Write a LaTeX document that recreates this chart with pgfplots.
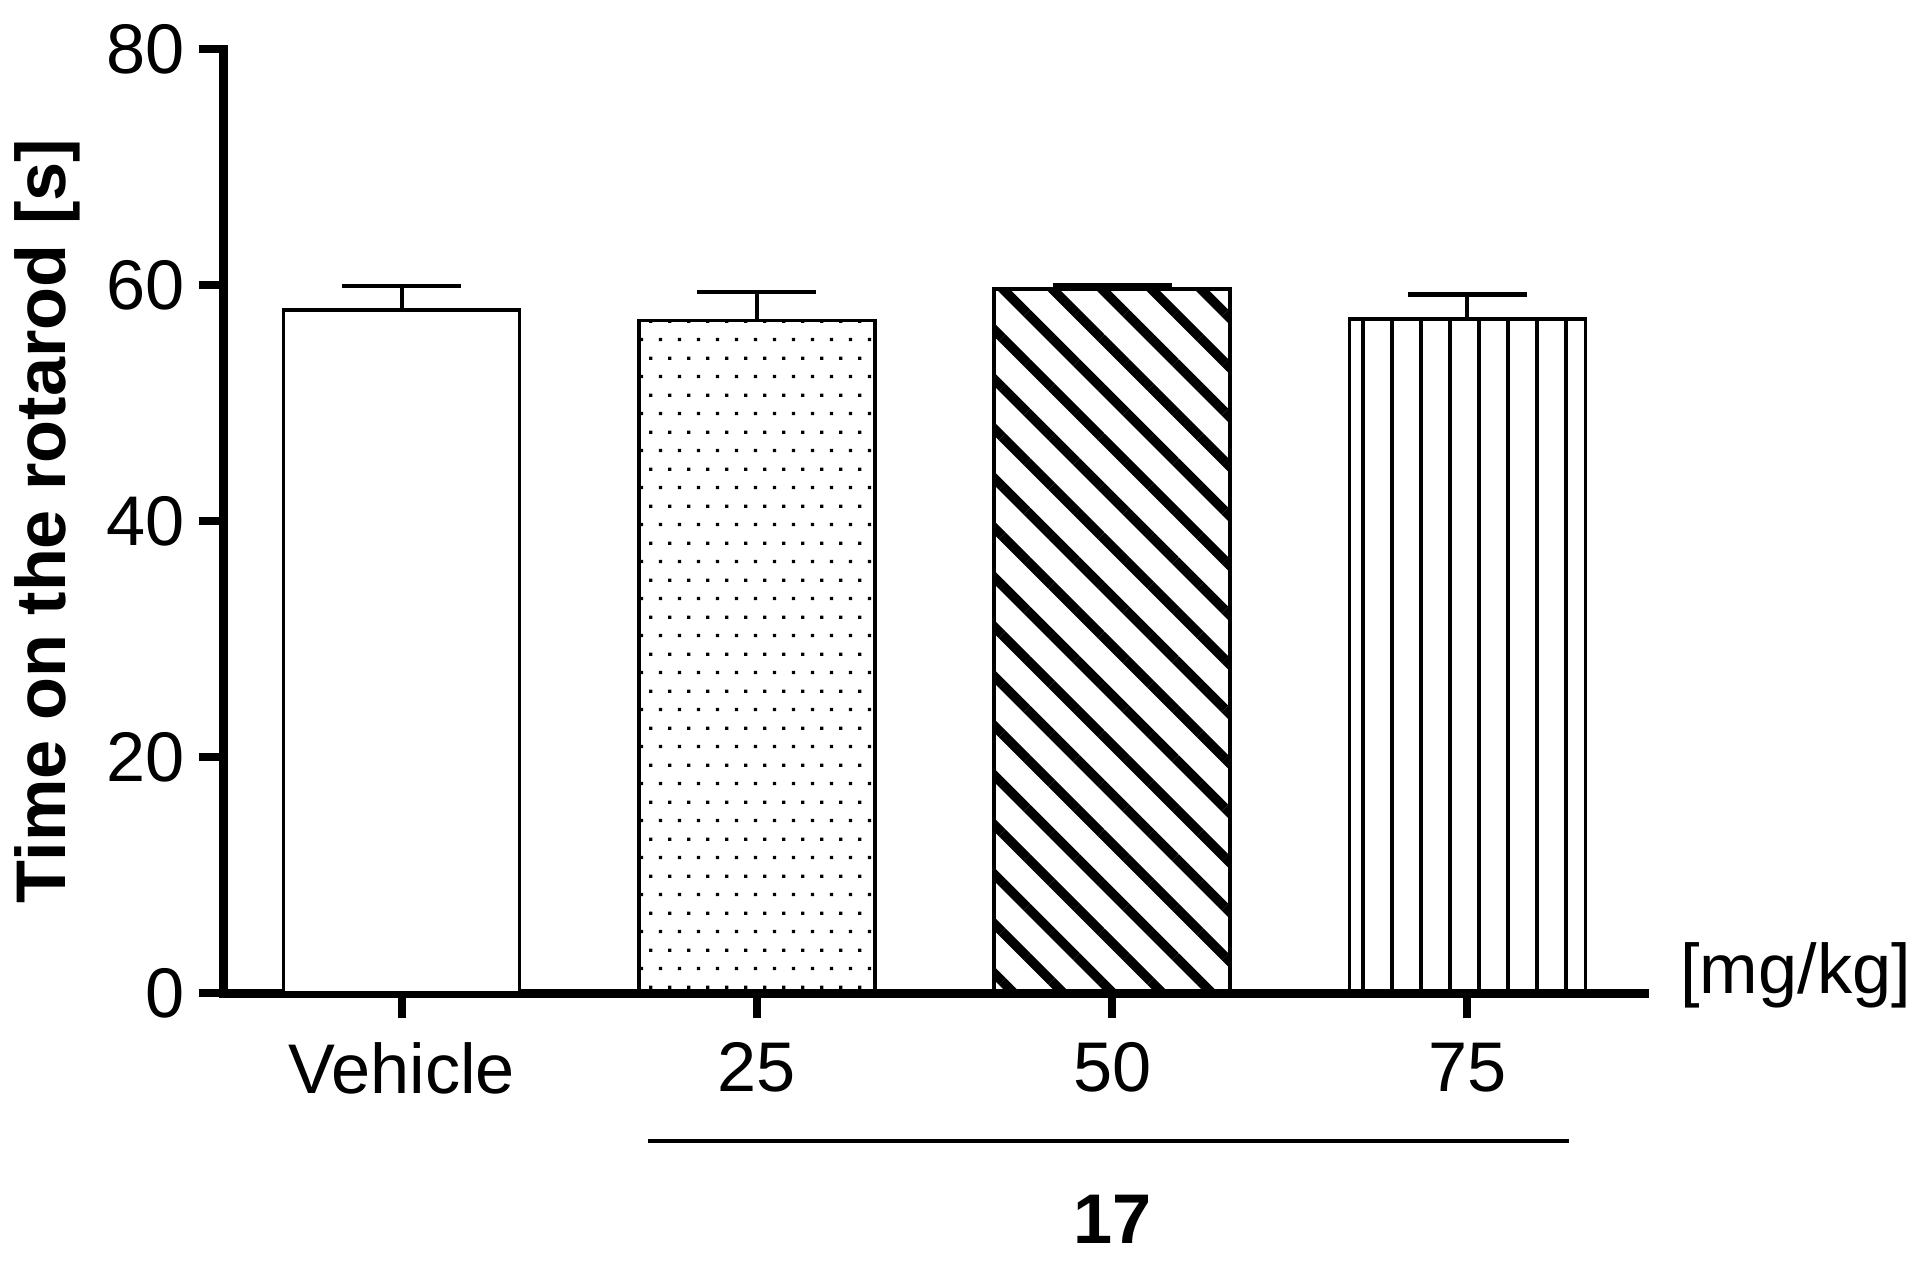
\documentclass[border=0pt]{standalone}
\usepackage{fontspec}
\setmainfont{Liberation Sans}
\usepackage{pgfplots}
\pgfplotsset{compat=1.18}
\usetikzlibrary{patterns,patterns.meta}

% staggered dot grid for the 25 mg/kg bar
\pgfdeclarepatternformonly{staggerdots}{\pgfpoint{0cm}{0cm}}{\pgfpoint{0.1875cm}{0.366cm}}{\pgfpoint{0.1875cm}{0.366cm}}{%
  \pgfpathrectangle{\pgfpoint{0.03cm}{0.03cm}}{\pgfpoint{0.032cm}{0.032cm}}%
  \pgfpathrectangle{\pgfpoint{0.124cm}{0.213cm}}{\pgfpoint{0.032cm}{0.032cm}}%
  \pgfusepath{fill}}

\newcommand{\bigfont}{\fontsize{20}{24}\selectfont}

\pgfplotsset{
  errbar/.style={
    error bars/.cd, y dir=plus, y explicit,
    error bar style={line width=0.04cm, black},
    error mark options={rotate=90, line width=0.045cm, mark size=0.595cm, black}},
}

\begin{document}
\begin{tikzpicture}
\useasboundingbox (-2.24,-2.73) rectangle (16.94,9.93);
\begin{axis}[
    at={(0,0)}, anchor=south west,
    scale only axis,
    width=14.21cm, height=9.44cm,
    xmin=-0.5, xmax=3.5,
    ymin=0, ymax=80,
    axis x line*=bottom, axis y line*=left,
    axis line style={line width=0.09cm, line cap=rect},
    xtick={0,1,2,3},
    xticklabels={Vehicle,25,50,75},
    ytick={0,20,40,60,80},
    tick align=outside,
    major tick length=0.25cm,
    tick style={line width=0.08cm, black},
    /pgf/number format/assume math mode=true,
    tick label style={font=\bigfont},
    yticklabel style={anchor=east, inner sep=0pt, xshift=-0.14cm},
    xticklabel style={anchor=north, inner sep=0pt, yshift=-0.24cm},
    ylabel={\bfseries Time on the rotarod [s]},
    every axis y label/.style={at={(axis description cs:-0.124,0.5)}, rotate=90, anchor=center, font=\bigfont},
    clip=false,
    ybar,
]

\addplot[bar shift=0pt, bar width=2.36cm, draw=black, line width=0.035cm, fill=white, errbar]
    coordinates {(0,57.9) +- (0,2.0)};

\addplot[bar shift=0pt, bar width=2.36cm, draw=black, line width=0.035cm, pattern=staggerdots, errbar]
    coordinates {(1,57.0) +- (0,2.4)};

\addplot[bar shift=0pt, bar width=2.36cm, draw=black, line width=0.04cm,
    pattern={Lines[angle=-45, distance=0.35cm, line width=0.095cm]}, errbar]
    coordinates {(2,59.7) +- (0,0.3)};

\addplot[bar shift=0pt, bar width=2.36cm, draw=black, line width=0.035cm,
    pattern={Lines[angle=90, distance=0.29cm, line width=0.04cm]}, errbar]
    coordinates {(3,57.1) +- (0,2.1)};

\draw[line width=0.04cm] (axis cs:0.693,-12.5) -- (axis cs:3.287,-12.5);
\node[font=\bigfont\bfseries] at (axis cs:2.0,-19.2) {17};
\node[font=\bigfont] at (axis cs:3.924,1.5) {[mg/kg]};

\end{axis}
\end{tikzpicture}
\end{document}
